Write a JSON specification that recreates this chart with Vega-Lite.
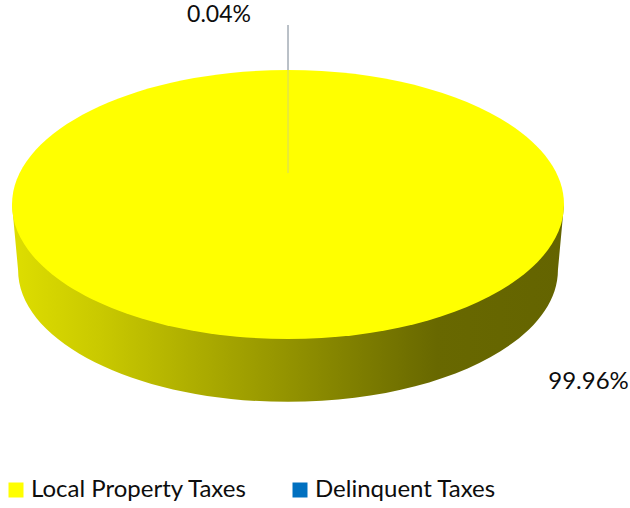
{
  "$schema": "https://vega.github.io/schema/vega-lite/v6.json",
  "width": 630,
  "height": 508,
  "padding": 0,
  "autosize": {"type": "none"},
  "background": "white",
  "config": {"view": {"stroke": null}, "font": "Lato"},
  "data": {
    "values": [
      {"category": "Local Property Taxes", "share": 0.9996},
      {"category": "Delinquent Taxes", "share": 0.0004}
    ]
  },
  "layer": [
    {
      "transform": [{"filter": "datum.category === 'Local Property Taxes'"}],
      "mark": {
        "type": "point",
        "shape": "M -1 0 L -0.978 0.237 C -0.978 0.501 -0.540 0.715 0 0.715 C 0.540 0.715 0.978 0.501 0.978 0.237 L 1 0 Z",
        "size": 304704,
        "filled": true,
        "opacity": 1,
        "strokeWidth": 0,
        "color": {
          "gradient": "linear",
          "x1": 0, "y1": 0, "x2": 1, "y2": 0,
          "stops": [
            {"offset": 0, "color": "#DEDE00"},
            {"offset": 0.16, "color": "#C9C900"},
            {"offset": 0.34, "color": "#ACAC00"},
            {"offset": 0.5, "color": "#939300"},
            {"offset": 0.67, "color": "#777700"},
            {"offset": 0.77, "color": "#686800"},
            {"offset": 1, "color": "#646400"}
          ]
        }
      },
      "encoding": {
        "x": {"datum": 0, "type": "quantitative", "scale": {"domain": [-1.0435, 1.2391], "nice": false, "zero": false}, "axis": null},
        "y": {"datum": 0, "type": "quantitative", "scale": {"domain": [-1.0996, 0.7409], "nice": false, "zero": false}, "axis": null}
      }
    },
    {
      "transform": [{"filter": "datum.category === 'Local Property Taxes'"}],
      "mark": {
        "type": "point",
        "shape": "M -1 0 C -1 -0.2691 -0.5523 -0.4873 0 -0.4873 C 0.5523 -0.4873 1 -0.2691 1 0 C 1 0.2691 0.5523 0.4873 0 0.4873 C -0.5523 0.4873 -1 0.2691 -1 0 Z",
        "size": 304704,
        "filled": true,
        "opacity": 1,
        "strokeWidth": 0
      },
      "encoding": {
        "x": {"datum": 0, "type": "quantitative", "scale": {"domain": [-1.0435, 1.2391], "nice": false, "zero": false}, "axis": null},
        "y": {"datum": 0, "type": "quantitative", "scale": {"domain": [-1.0996, 0.7409], "nice": false, "zero": false}, "axis": null},
        "color": {
          "field": "category",
          "type": "nominal",
          "scale": {"domain": ["Local Property Taxes", "Delinquent Taxes"], "range": ["#FFFF00", "#0070C0"]},
          "legend": {
            "orient": "none",
            "legendX": 4,
            "legendY": 478,
            "direction": "horizontal",
            "title": null,
            "symbolType": "square",
            "symbolSize": 225,
            "symbolStrokeWidth": 0,
            "symbolOpacity": 1,
            "labelFont": "Lato",
            "labelFontSize": 24,
            "labelColor": "#0D0D0D",
            "labelOffset": 3,
            "labelLimit": 400,
            "columnPadding": 40,
            "padding": 0
          }
        }
      }
    },
    {
      "transform": [{"filter": "datum.category === 'Delinquent Taxes'"}],
      "mark": {"type": "rule", "color": "#B9BEB0", "strokeWidth": 1, "opacity": 0.6},
      "encoding": {
        "x": {"datum": 0, "type": "quantitative", "scale": {"domain": [-1.0435, 1.2391], "nice": false, "zero": false}, "axis": null},
        "y": {"datum": 0.114, "type": "quantitative", "scale": {"domain": [-1.0996, 0.7409], "nice": false, "zero": false}, "axis": null},
        "y2": {"datum": 0.4873}
      }
    },
    {
      "transform": [{"filter": "datum.category === 'Delinquent Taxes'"}],
      "mark": {"type": "rule", "color": "#A9B1BA", "strokeWidth": 1.6},
      "encoding": {
        "x": {"datum": 0, "type": "quantitative", "scale": {"domain": [-1.0435, 1.2391], "nice": false, "zero": false}, "axis": null},
        "y": {"datum": 0.4873, "type": "quantitative", "scale": {"domain": [-1.0996, 0.7409], "nice": false, "zero": false}, "axis": null},
        "y2": {"datum": 0.6504}
      }
    },
    {
      "transform": [{"filter": "datum.category === 'Delinquent Taxes'"}],
      "mark": {"type": "text", "font": "Lato", "fontSize": 23, "align": "center", "baseline": "alphabetic", "color": "#0D0D0D"},
      "encoding": {
        "x": {"datum": -0.25, "type": "quantitative", "scale": {"domain": [-1.0435, 1.2391], "nice": false, "zero": false}, "axis": null},
        "y": {"datum": 0.6594, "type": "quantitative", "scale": {"domain": [-1.0996, 0.7409], "nice": false, "zero": false}, "axis": null},
        "text": {"field": "share", "type": "quantitative", "format": ".2%"}
      }
    },
    {
      "transform": [{"filter": "datum.category === 'Local Property Taxes'"}],
      "mark": {"type": "text", "font": "Lato", "fontSize": 24, "align": "center", "baseline": "middle", "color": "#0D0D0D"},
      "encoding": {
        "x": {"datum": 1.0888, "type": "quantitative", "scale": {"domain": [-1.0435, 1.2391], "nice": false, "zero": false}, "axis": null},
        "y": {"datum": -0.6413, "type": "quantitative", "scale": {"domain": [-1.0996, 0.7409], "nice": false, "zero": false}, "axis": null},
        "text": {"field": "share", "type": "quantitative", "format": ".2%"}
      }
    }
  ]
}
